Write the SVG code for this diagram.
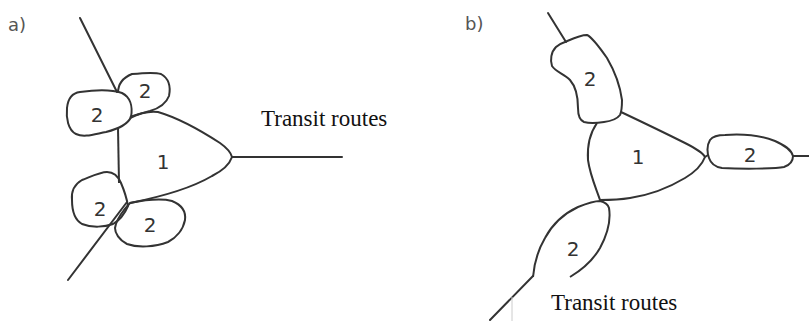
<svg xmlns="http://www.w3.org/2000/svg" width="809" height="321" viewBox="0 0 809 321">
  <style>
    .edge { fill: none; stroke: #333; stroke-width: 2; stroke-linecap: round; stroke-linejoin: round; }
    .zone { fill: none; stroke: #333; stroke-width: 2; stroke-linejoin: round; }
    .num { font-family: "DejaVu Sans", Verdana, sans-serif; font-size: 20px; fill: #333; text-anchor: middle; }
    .caption { font-family: "Liberation Serif", "Times New Roman", serif; font-size: 23px; fill: #111; }
    .panel { font-family: "DejaVu Sans", Verdana, sans-serif; font-size: 18px; fill: #555; }
  </style>
  <rect width="809" height="321" fill="#fff"/>

  <!-- panel a -->
  <text class="panel" x="8" y="31">a)</text>
  <g id="a-routes">
    <path class="edge" d="M80,18 L117,92"/>
    <path class="edge" d="M68,280 L127,202"/>
    <path class="edge" d="M232,157 L342,157"/>
  </g>
  <g id="a-core">
    <path class="zone" d="M118,128 L119,183"/>
    <path class="zone" d="M130,118 C140,113 150,111 158,112 C175,117 200,130 220,143 C227,148 231,153 232,157 C230,163 224,170 212,176 C195,186 165,196 130,203"/>
    <text class="num" x="163" y="169">1</text>
  </g>
  <g id="a-zone-nw">
    <path class="zone" d="M80,92 C95,90 110,89 122,93 C130,97 133,106 131,117 C128,124 118,129 106,132 C95,134 84,138 76,134 C68,130 66,118 67,108 C68,98 72,93 80,92 Z"/>
    <text class="num" x="97" y="122">2</text>
  </g>
  <g id="a-zone-n">
    <path class="zone" d="M118,93 C118,84 122,78 132,74 C142,73 155,72 161,74 C168,78 171,86 169,96 C166,104 160,108 150,111 C142,113 135,115 130,117"/>
    <text class="num" x="145" y="98">2</text>
  </g>
  <g id="a-zone-sw">
    <path class="zone" d="M107,172 C113,172 118,176 121,183 C124,190 127,200 128,206 C125,213 120,220 113,224 C105,227 92,228 82,224 C75,220 72,212 72,200 C71,190 75,184 82,180 C90,177 100,172 107,172 Z"/>
    <text class="num" x="100" y="216">2</text>
  </g>
  <g id="a-zone-s">
    <path class="zone" d="M130,203 C145,200 160,198 172,201 C182,205 186,212 185,220 C183,230 176,238 168,242 C155,247 138,248 127,244 C119,240 115,233 115,228 C116,222 120,215 124,210 Z"/>
    <text class="num" x="150" y="232">2</text>
  </g>
  <text class="caption" x="261" y="126">Transit routes</text>

  <!-- panel b -->
  <text class="panel" x="465" y="30">b)</text>
  <g id="b-routes">
    <path class="edge" d="M548,13 L566,42"/>
    <path class="edge" d="M793,156 L809,156"/>
    <path class="edge" d="M490,320 L533,276"/>
  </g>
  <g id="b-core">
    <path class="zone" d="M621,112 C640,121 665,133 685,143 C697,149 703,153 705,157 C702,165 695,172 685,178 C670,187 650,195 630,198 C618,200 608,200 600,200 C596,188 590,175 588,160 C587,145 590,133 597,123"/>
    <text class="num" x="638" y="164">1</text>
  </g>
  <g id="b-zone-n">
    <path class="zone" d="M565,42 C572,39 580,35 587,35 C592,37 600,48 607,58 C614,70 620,85 622,100 C622,106 622,111 620,115 C617,119 612,121 604,122 C597,123 588,123 584,122 C579,120 578,115 578,108 C578,98 577,88 570,80 C564,74 556,72 552,66 C550,60 551,52 556,47 C559,44 562,43 565,42 Z"/>
    <text class="num" x="590" y="86">2</text>
  </g>
  <g id="b-zone-e">
    <path class="zone" d="M710,140 C713,136 718,135 725,135 C740,134 760,135 775,141 C784,145 791,149 793,156 C793,161 790,165 784,167 C775,169 740,169 722,168 C715,167 711,164 709,158 C707,152 707,145 710,140 Z"/>
    <path class="zone" d="M705,157 L708,155"/>
    <text class="num" x="750" y="162">2</text>
  </g>
  <g id="b-zone-sw">
    <path class="zone" d="M533,277 C534,265 538,250 545,238 C552,225 563,214 578,207 C588,203 595,201 600,201 C604,202 608,204 609,208 C611,220 607,235 600,248 C592,262 580,271 570,277"/>
    <text class="num" x="573" y="256">2</text>
  </g>
  <path d="M512,297 L512,321" stroke="#ccc" stroke-width="1"/>
  <text class="caption" x="551" y="310">Transit routes</text>
</svg>
